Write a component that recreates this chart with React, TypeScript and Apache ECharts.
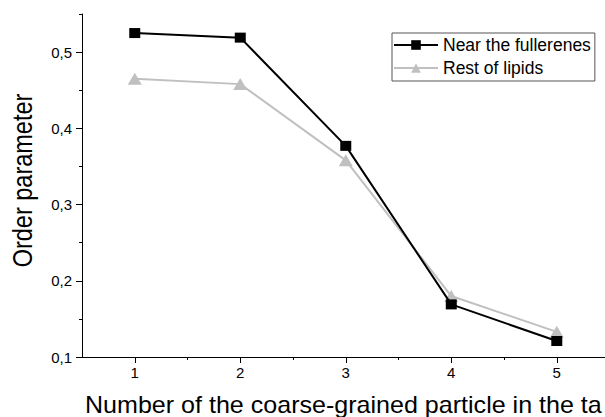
import React, { useEffect, useRef } from "react";
import * as echarts from "echarts";

const categories = [1, 2, 3, 4, 5];
const nearFullerenes = [0.525, 0.519, 0.377, 0.169, 0.121];
const restOfLipids = [0.465, 0.458, 0.358, 0.18, 0.133];
const xMajorTicks = [1, 2, 3, 4, 5];
const xMinorTicks = [1.5, 2.5, 3.5, 4.5];
const yMajorTicks = [0.1, 0.2, 0.3, 0.4, 0.5];
const yMinorTicks = [0.15, 0.25, 0.35, 0.45, 0.55];

export default function App() {
  const ref = useRef<HTMLDivElement>(null);
  useEffect(() => {
    if (!ref.current) return;
    const chart = echarts.init(ref.current, null, { renderer: "svg" });
    const font = "Liberation Sans, Arial, sans-serif";
    const xBase = { type: "value", min: 0.5, max: 5.457, gridIndex: 0, position: "bottom", splitLine: { show: false } };
    const yBase = { type: "value", min: 0.1, max: 0.55, gridIndex: 0, position: "left", splitLine: { show: false } };
    chart.setOption({
      animation: false,
      backgroundColor: "#fff",
      grid: { left: 82, top: 14, right: 0, bottom: 60, containLabel: false },
      xAxis: [
        {
          ...xBase,
          axisLine: { show: true, lineStyle: { color: "#000", width: 1 } },
          axisTick: { show: true, length: 6, customValues: xMajorTicks, lineStyle: { color: "#000" } },
          axisLabel: { show: true, customValues: xMajorTicks, margin: 8, fontSize: 15, color: "#000", fontFamily: font },
        },
        {
          ...xBase,
          axisLine: { show: false },
          axisTick: { show: true, length: 3, customValues: xMinorTicks, lineStyle: { color: "#000" } },
          axisLabel: { show: false },
        },
      ],
      yAxis: [
        {
          ...yBase,
          axisLine: { show: true, lineStyle: { color: "#000", width: 1 } },
          axisTick: { show: true, length: 6, customValues: yMajorTicks, lineStyle: { color: "#000" } },
          axisLabel: {
            show: true,
            customValues: yMajorTicks,
            margin: 10,
            fontSize: 15,
            color: "#000",
            fontFamily: font,
            formatter: (v: number) => v.toFixed(1).replace(".", ","),
          },
        },
        {
          ...yBase,
          axisLine: { show: false },
          axisTick: { show: true, length: 3, customValues: yMinorTicks, lineStyle: { color: "#000" } },
          axisLabel: { show: false },
        },
      ],
      legend: {
        orient: "vertical",
        left: 392,
        top: 33,
        data: ["Near the fullerenes", "Rest of lipids"],
        borderColor: "#555",
        borderWidth: 1,
        padding: [2, 4, 3, 1],
        itemGap: 3,
        itemWidth: 44,
        itemHeight: 12,
        textStyle: { fontSize: 17.5, lineHeight: 20, color: "#000", fontFamily: font, padding: [0, 0, 0, 0] },
      },
      graphic: [
        {
          type: "text",
          x: 85,
          y: 405,
          scaleX: 1.09,
          style: {
            text: "Number of the coarse-grained particle in the ta",
            fontSize: 23,
            fontFamily: font,
            fill: "#000",
            verticalAlign: "middle",
          },
        },
        {
          type: "text",
          x: 22,
          y: 180.5,
          rotation: Math.PI / 2,
          scaleY: 1.15,
          style: {
            text: "Order parameter",
            fontSize: 23.5,
            fontFamily: font,
            fill: "#000",
            align: "center",
            verticalAlign: "middle",
          },
        },
      ],
      series: [
        {
          name: "Rest of lipids",
          type: "line",
          xAxisIndex: 0,
          yAxisIndex: 0,
          data: categories.map((c, i) => [c, restOfLipids[i]]),
          symbol: "triangle",
          symbolSize: [14, 12],
          color: "#c0c0c0",
          lineStyle: { color: "#c0c0c0", width: 2 },
          itemStyle: { color: "#c0c0c0" },
          z: 2,
        },
        {
          name: "Near the fullerenes",
          type: "line",
          xAxisIndex: 0,
          yAxisIndex: 0,
          data: categories.map((c, i) => [c, nearFullerenes[i]]),
          symbol: "rect",
          symbolSize: [11, 10],
          color: "#000",
          lineStyle: { color: "#000", width: 2 },
          itemStyle: { color: "#000" },
          z: 3,
        },
      ],
    });
    return () => chart.dispose();
  }, []);
  return <div ref={ref} style={{ width: 605, height: 417, position: "fixed", left: 0, top: 0 }} />;
}
